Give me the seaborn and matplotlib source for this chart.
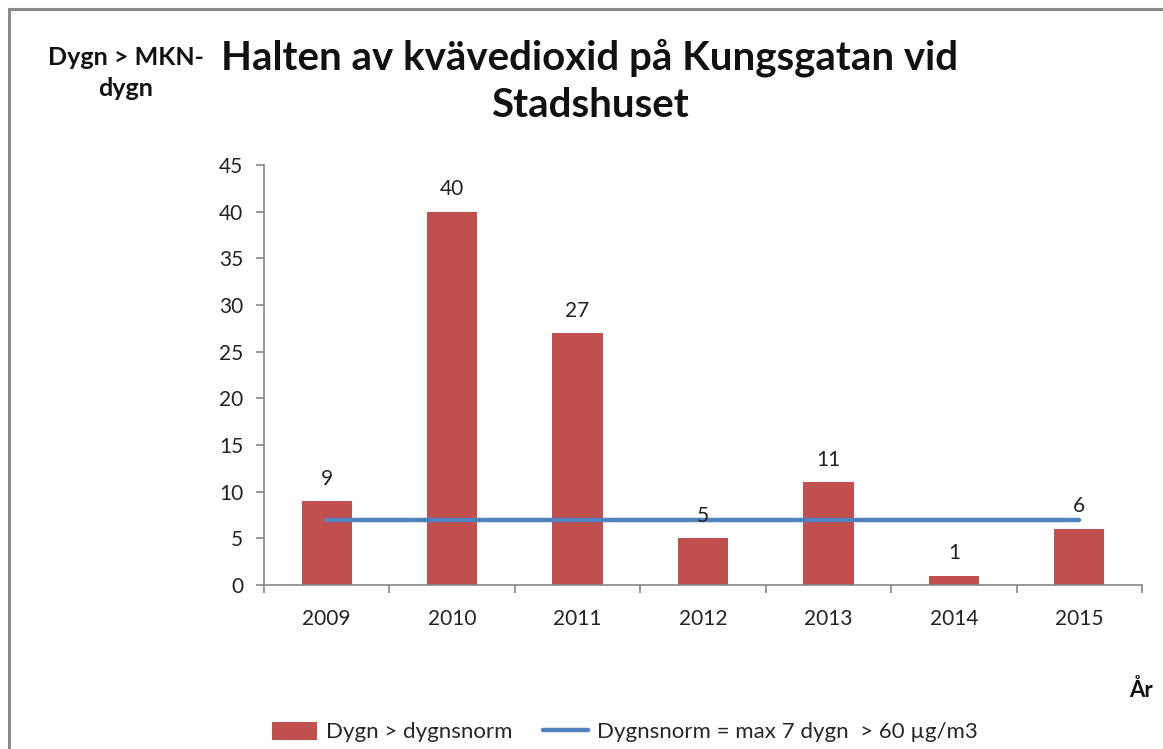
import matplotlib
matplotlib.use("Agg")
import matplotlib.pyplot as plt
import seaborn as sns
import pandas as pd
from matplotlib.patches import Rectangle

years = ["2009", "2010", "2011", "2012", "2013", "2014", "2015"]
days_over = [9, 40, 27, 5, 11, 1, 6]
norm_days = [7, 7, 7, 7, 7, 7, 7]
yticks = [0, 5, 10, 15, 20, 25, 30, 35, 40, 45]

title = "Halten av kvävedioxid på Kungsgatan vid\nStadshuset"
ylabel = "Dygn > MKN-\ndygn"
xlabel = "År"
bar_label = "Dygn > dygnsnorm"
line_label = "Dygnsnorm = max 7 dygn  > 60 µg/m3"

sns.set_theme(style="white")
plt.rcParams["font.family"] = ["Lato", "DejaVu Sans"]

df = pd.DataFrame({"year": years, "days": days_over, "norm": norm_days})

W, H = 1163, 749
fig = plt.figure(figsize=(W / 100, H / 100), dpi=100)
ax = fig.add_axes([264 / W, 1 - 585 / H, (1142 - 264) / W, (585 - 165) / H])

sns.barplot(data=df, x="year", y="days", color="#C0504D", saturation=1,
            width=0.4, ax=ax, label=bar_label, edgecolor="none")
sns.lineplot(data=df, x="year", y="norm", color="#4F81BD", linewidth=3.2,
             ax=ax, label=line_label, sort=False)

for c in ax.containers:
    ax.bar_label(c, padding=9, fontsize=15, color="#222222")

ax.set_ylim(0, 45)
ax.set_yticks(yticks)
ax.set_xlim(-0.5, len(years) - 0.5)
ax.set_xlabel("")
ax.set_ylabel("")

spine_col = "#868686"
for s in ["top", "right"]:
    ax.spines[s].set_visible(False)
for s in ["left", "bottom"]:
    ax.spines[s].set_color(spine_col)
    ax.spines[s].set_linewidth(1.2)

ax.tick_params(axis="y", which="major", direction="out", length=6, width=1.2,
               color=spine_col, labelsize=15, labelcolor="#222222", pad=9, left=True)
ax.tick_params(axis="x", which="major", length=0, labelsize=15,
               labelcolor="#222222", pad=17)
ax.set_xticks([i - 0.5 for i in range(len(years) + 1)], minor=True)
ax.tick_params(axis="x", which="minor", direction="out", length=6, width=1.2,
               color=spine_col, bottom=True)

fig.text(590 / W, 1 - 81 / H, title, ha="center", va="center", fontsize=29,
         fontweight="bold", color="#111111", linespacing=1.32)
fig.text(126 / W, 1 - 73 / H, ylabel, ha="center", va="center", fontsize=18,
         fontweight="bold", color="#111111", linespacing=1.45)
fig.text(1141 / W, 1 - 690 / H, xlabel, ha="center", va="center", fontsize=16,
         fontweight="bold", color="#111111")

handles, labels = ax.get_legend_handles_labels()
order = [labels.index(bar_label), labels.index(line_label)]
leg = ax.legend([handles[i] for i in order], [labels[i] for i in order],
                loc="center", bbox_to_anchor=(625 / W, 1 - 732 / H),
                bbox_transform=fig.transFigure, ncol=2, frameon=False,
                fontsize=16, handlelength=2.0, handleheight=0.9,
                columnspacing=1.4, handletextpad=0.4)

fig.patches.append(Rectangle((9 / W, -0.1), 1.2, 1 - 9 / H + 0.1,
                             transform=fig.transFigure, fill=False,
                             edgecolor="#8A8A8A", linewidth=2.2))

fig.savefig("out.png", dpi=100, facecolor="white")
